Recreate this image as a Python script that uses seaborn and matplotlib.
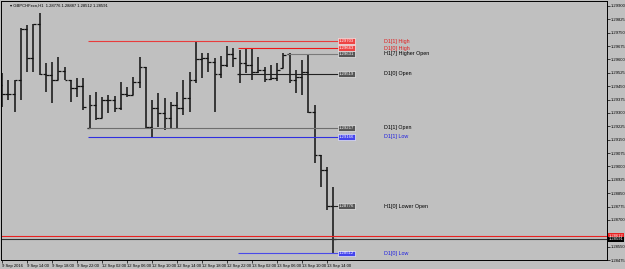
import numpy as np
import pandas as pd
import seaborn as sns
import matplotlib.pyplot as plt


chart_title = "GBPCHFecn,H1  1.28776 1.28887 1.28512 1.28591"

# H1 bars, 9 Sep 10:00 .. 13 Sep 15:00
opens = [1.29458, 1.29407, 1.29407, 1.29486, 1.29771, 1.29608, 1.29799, 1.29519, 1.29514, 1.29486,
         1.29536, 1.29486, 1.29441, 1.29452, 1.29217, 1.29346, 1.29273, 1.29374, 1.29374, 1.29329,
         1.29407, 1.29402, 1.29474, 1.29558, 1.29222, 1.29329, 1.29301, 1.29273, 1.29346, 1.29329,
         1.29385, 1.29486, 1.29603, 1.29608, 1.29586, 1.29519, 1.29570, 1.29631, 1.29519, 1.29581,
         1.29570, 1.29530, 1.29542, 1.29491, 1.29497, 1.29553, 1.29631, 1.29486, 1.29502, 1.29530,
         1.29306, 1.29066, 1.28982, 1.28776]
highs = [1.29525, 1.29486, 1.29486, 1.29777, 1.29794, 1.29799, 1.29861, 1.29581, 1.29586, 1.29614,
         1.29558, 1.29486, 1.29497, 1.29497, 1.29402, 1.29418, 1.29390, 1.29402, 1.29396, 1.29474,
         1.29446, 1.29502, 1.29614, 1.29558, 1.29374, 1.29413, 1.29385, 1.29362, 1.29418, 1.29486,
         1.29530, 1.29703, 1.29637, 1.29637, 1.29608, 1.29620, 1.29676, 1.29665, 1.29654, 1.29663,
         1.29660, 1.29614, 1.29558, 1.29570, 1.29581, 1.29637, 1.29637, 1.29542, 1.29597, 1.29626,
         1.29346, 1.29066, 1.28998, 1.28887]
lows = [1.29334, 1.29374, 1.29306, 1.29374, 1.29530, 1.29530, 1.29514, 1.29418, 1.29357, 1.29486,
        1.29486, 1.29362, 1.29390, 1.29318, 1.29217, 1.29262, 1.29273, 1.29301, 1.29306, 1.29318,
        1.29390, 1.29402, 1.29441, 1.29217, 1.29166, 1.29222, 1.29206, 1.29211, 1.29217, 1.29290,
        1.29306, 1.29469, 1.29497, 1.29530, 1.29306, 1.29497, 1.29558, 1.29558, 1.29469, 1.29525,
        1.29486, 1.29525, 1.29474, 1.29486, 1.29480, 1.29553, 1.29469, 1.29413, 1.29402, 1.29301,
        1.29021, 1.28887, 1.28758, 1.28512]
closes = [1.29407, 1.29407, 1.29486, 1.29771, 1.29608, 1.29799, 1.29519, 1.29514, 1.29486, 1.29536,
          1.29486, 1.29441, 1.29452, 1.29334, 1.29346, 1.29273, 1.29374, 1.29374, 1.29329, 1.29407,
          1.29402, 1.29474, 1.29558, 1.29222, 1.29329, 1.29301, 1.29273, 1.29346, 1.29329, 1.29385,
          1.29486, 1.29603, 1.29608, 1.29586, 1.29519, 1.29570, 1.29631, 1.29608, 1.29581, 1.29570,
          1.29530, 1.29542, 1.29491, 1.29497, 1.29542, 1.29626, 1.29486, 1.29502, 1.29530, 1.29306,
          1.29066, 1.28982, 1.28780, 1.28591]

time_labels = ["9 Sep 2016", "9 Sep 14:00", "9 Sep 18:00", "9 Sep 22:00", "12 Sep 02:00",
               "12 Sep 06:00", "12 Sep 10:00", "12 Sep 14:00", "12 Sep 18:00", "12 Sep 22:00",
               "13 Sep 02:00", "13 Sep 06:00", "13 Sep 10:00", "13 Sep 14:00"]
price_ticks = [1.29900, 1.29825, 1.29750, 1.29675, 1.29600, 1.29525, 1.29450, 1.29375, 1.29300,
               1.29225, 1.29150, 1.29075, 1.29000, 1.28925, 1.28850, 1.28775, 1.28700, 1.28625,
               1.28550, 1.28475]

level_names = ["D1[1] High", "D1[0] High", "H1[7] Higher Open", "D1[0] Open",
               "D1[1] Open", "D1[1] Low", "H1[0] Lower Open", "D1[0] Low"]
level_values = [1.29703, 1.29663, 1.29631, 1.29519, 1.29217, 1.29166, 1.28776, 1.28512]
level_start = [14, 38, 46, 38, 14, 14, 53, 38]
bid = 1.28591
ask = 1.28612

level_style = {
    "D1[1] High": ("#e83c3c", "#ee4444", "#e02020"),
    "D1[0] High": ("#f01818", "#ee4444", "#e02020"),
    "H1[7] Higher Open": ("#7a7a7a", "#555555", "black"),
    "D1[0] Open": ("#202020", "#555555", "black"),
    "D1[1] Open": ("#6e6e6e", "#555555", "black"),
    "D1[1] Low": ("#3030e0", "#4444ee", "#2020e0"),
    "H1[0] Lower Open": ("#202020", "#555555", "black"),
    "D1[0] Low": ("#4a4ae8", "#4444ee", "#2020e0"),
}

bars = pd.DataFrame({"open": opens, "high": highs, "low": lows, "close": closes})
bars["idx"] = np.arange(len(bars))

sns.set_theme(style="ticks", rc={"axes.facecolor": "#c0c0c0", "figure.facecolor": "#c0c0c0",
                                 "axes.edgecolor": "black", "axes.linewidth": 0.7})
plt.rcParams["font.family"] = ["Liberation Sans", "DejaVu Sans"]

fig = plt.figure(figsize=(6.25, 2.69), dpi=100)
ax = fig.add_axes([1 / 625, 9 / 269, 606 / 625, 259 / 269])

# OHLC bars
ax.vlines(bars["idx"], bars["low"], bars["high"], color="#111111", lw=1.1)
ax.hlines(bars["open"], bars["idx"] - 0.45, bars["idx"], color="#111111", lw=0.9)
ax.hlines(bars["close"], bars["idx"], bars["idx"] + 0.45, color="#111111", lw=0.9)

# bid / ask lines
ax.axhline(ask, color="#e82020", lw=0.8)
ax.axhline(bid, color="#333333", lw=0.8)

# levels with price boxes and names
box_x = 53.8
for name, val, start in zip(level_names, level_values, level_start):
    line_c, box_c, text_c = level_style[name]
    ax.hlines(val, start - 0.2, box_x, color=line_c, lw=0.8)
    ax.text(box_x + 0.1, val, f"{val:.5f}", fontsize=3.1, color="white", va="center", ha="left",
            bbox=dict(boxstyle="square,pad=0.2", fc=box_c, ec="white", lw=0.4))
    ax.text(61.1, val, name, fontsize=3.9, color=text_c, va="center", ha="left")

ax.text(1.2, 1.29905, "\u25be " + chart_title, fontsize=3.0, color="black", va="center", ha="left")

ax.set_xlim(-0.16, 96.8)
ax.set_ylim(1.28478, 1.29928)

ax.yaxis.tick_right()
ax.set_yticks(price_ticks)
# the 1.28625 label sits under the bid/ask boxes
ax.set_yticklabels(["" if p == 1.28625 else f"{p:.5f}" for p in price_ticks])
ax.tick_params(axis="y", length=2, width=0.5, pad=1, labelsize=3.0, colors="black")

ax.set_xticks(np.arange(0, len(bars), 4))
ax.set_xticklabels(time_labels)
ax.tick_params(axis="x", length=2, width=0.5, pad=1, labelsize=3.0, colors="black")
for lbl in ax.get_xticklabels():
    lbl.set_ha("left")

trans = ax.get_yaxis_transform()
ax.text(1.003, ask, f"{ask:.5f}", transform=trans, fontsize=3.0, color="white", va="center",
        ha="left", bbox=dict(boxstyle="square,pad=0.15", fc="#e82020", ec="none"), clip_on=False)
ax.text(1.003, bid, f"{bid:.5f}", transform=trans, fontsize=3.0, color="white", va="center",
        ha="left", bbox=dict(boxstyle="square,pad=0.15", fc="black", ec="none"), clip_on=False)

fig.savefig("out.png", dpi=100, facecolor=fig.get_facecolor())
